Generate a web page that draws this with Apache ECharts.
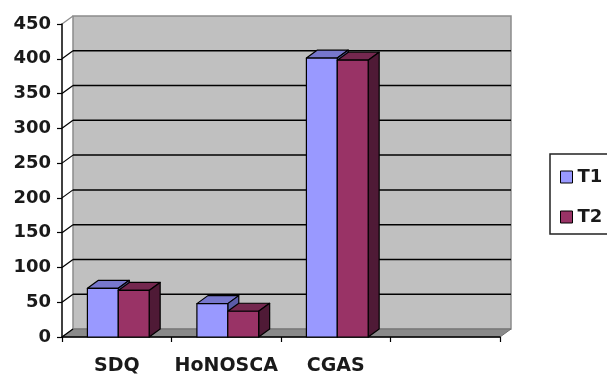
<!DOCTYPE html>
<html>
<head>
<meta charset="utf-8">
<script src="https://cdn.jsdelivr.net/npm/echarts@6/dist/echarts.min.js"></script>
<style>
  html, body { margin: 0; padding: 0; background: #fff; }
  #chart { width: 607px; height: 376px; }
</style>
</head>
<body>
<div id="chart"></div>
<script>
// Scores per instrument at the two time points
const categories = ['SDQ', 'HoNOSCA', 'CGAS', ''];
const seriesNames = ['T1', 'T2'];
const t1Values = [70, 48, 401];
const t2Values = [67, 37, 398];
const yTicks = [0, 50, 100, 150, 200, 250, 300, 350, 400, 450];

// Pseudo-3D depth offset (pixels) for walls and bar extrusion
const DX = 11, DY = -8;
const FONT = 'DejaVu Sans';

const chart = echarts.init(document.getElementById('chart'));

// Back wall and floor of the 3D box
function renderFrame(params, api) {
  const cs = params.coordSys;
  const l = cs.x, t = cs.y, r = cs.x + cs.width, b = cs.y + cs.height;
  return {
    type: 'group',
    children: [
      { type: 'polygon', shape: { points: [[l + DX, t + DY], [r + DX, t + DY], [r + DX, b + DY], [l + DX, b + DY]] },
        style: { fill: '#c0c0c0', stroke: '#8c8c8c', lineWidth: 1.5 } },
      { type: 'polygon', shape: { points: [[l, b], [r, b], [r + DX, b + DY], [l + DX, b + DY]] },
        style: { fill: '#8a8a8a', stroke: '#707070', lineWidth: 1 } }
    ]
  };
}

// Gridlines on the back wall plus the short diagonal joining each tick to it
function renderWallGrid(params, api) {
  const cs = params.coordSys;
  const v = api.value(1);
  const p = api.coord([0, v]);
  const y = p[1];
  const l = cs.x, r = cs.x + cs.width;
  const top = v === yTicks[yTicks.length - 1];
  const children = [
    { type: 'line', shape: { x1: l, y1: y, x2: l + DX, y2: y + DY },
      style: { stroke: top ? '#8c8c8c' : '#000', lineWidth: 1.2 } }
  ];
  if (!top && v !== 0) {
    children.push({ type: 'line', shape: { x1: l + DX, y1: y + DY, x2: r + DX, y2: y + DY },
      style: { stroke: '#000', lineWidth: 1.5 } });
  }
  return { type: 'group', children };
}

// Extruded bar: front face, top face and right side face
function barRenderer(index, front, topC, sideC) {
  return function (params, api) {
    const cat = api.value(0), v = api.value(1);
    const base = api.coord([cat, 0]);
    const head = api.coord([cat, v]);
    const band = api.size([1, 0])[0];
    const w = band * 0.282;
    const split = base[0] + band * 0.014;
    const x0 = index === 0 ? split - w : split;
    const x1 = x0 + w;
    const yt = head[1], yb = base[1];
    const st = { stroke: '#000', lineWidth: 1.2, lineJoin: 'round' };
    return {
      type: 'group',
      children: [
        { type: 'polygon', shape: { points: [[x0, yt], [x1, yt], [x1 + DX, yt + DY], [x0 + DX, yt + DY]] },
          style: Object.assign({ fill: topC }, st) },
        { type: 'polygon', shape: { points: [[x1, yt], [x1 + DX, yt + DY], [x1 + DX, yb + DY], [x1, yb]] },
          style: Object.assign({ fill: sideC }, st) },
        { type: 'rect', shape: { x: x0, y: yt, width: w, height: yb - yt },
          style: Object.assign({ fill: front }, st) }
      ]
    };
  };
}

chart.setOption({
  animation: false,
  backgroundColor: '#fff',
  grid: { left: 62, top: 24, width: 438, height: 315, containLabel: false },
  legend: {
    data: seriesNames,
    orient: 'vertical',
    left: 550,
    top: 154,
    itemWidth: 12,
    itemHeight: 12,
    itemGap: 22,
    icon: 'rect',
    padding: [14, 12, 8, 10],
    borderColor: '#222',
    borderWidth: 1.5,
    itemStyle: { borderColor: '#000', borderWidth: 1 },
    textStyle: { fontFamily: FONT, fontSize: 18, fontWeight: 'bold', color: '#1a1a1a' }
  },
  xAxis: {
    type: 'category',
    data: categories,
    boundaryGap: true,
    axisLine: { lineStyle: { color: '#000', width: 1.5 } },
    axisTick: { show: true, interval: 0, length: 5, lineStyle: { color: '#000', width: 1.2 } },
    axisLabel: { interval: 0, margin: 20, fontFamily: FONT, fontWeight: 'bold', fontSize: 19, color: '#1a1a1a' },
    splitLine: { show: false }
  },
  yAxis: {
    type: 'value',
    min: 0,
    max: 450,
    interval: 50,
    axisLine: { show: true, lineStyle: { color: '#000', width: 1.5 } },
    axisTick: { show: true, length: 5, lineStyle: { color: '#000', width: 1.2 } },
    axisLabel: { margin: 11, fontFamily: FONT, fontSize: 18, fontWeight: 'bold', color: '#1a1a1a' },
    splitLine: { show: false }
  },
  series: [
    { type: 'custom', name: 'frame', z: -2, clip: false, silent: true,
      renderItem: renderFrame, data: [[0, 0]] },
    { type: 'custom', name: 'wallGrid', z: -1, clip: false, silent: true,
      renderItem: renderWallGrid, data: yTicks.map(v => [0, v]) },
    { type: 'custom', name: seriesNames[0], clip: false,
      itemStyle: { color: '#9999ff' },
      renderItem: barRenderer(0, '#9999ff', '#7777cc', '#5c5ca8'),
      data: t1Values.map((v, i) => [i, v]) },
    { type: 'custom', name: seriesNames[1], clip: false,
      itemStyle: { color: '#993366' },
      renderItem: barRenderer(1, '#993366', '#74284f', '#4f1a36'),
      data: t2Values.map((v, i) => [i, v]) }
  ]
});
</script>
</body>
</html>
